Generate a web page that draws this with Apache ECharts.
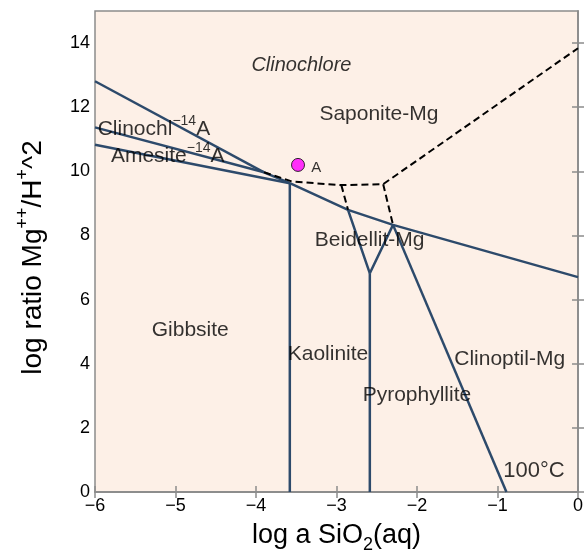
<!DOCTYPE html>
<html><head><meta charset="utf-8">
<script src="https://cdn.jsdelivr.net/npm/echarts@6/dist/echarts.min.js"></script>
<style>html,body{margin:0;padding:0;background:#fff}#c{width:587px;height:550px}</style>
</head><body><div id="c"></div>
<script>
// ---- axis ticks ----
const xTicks = [-6, -5, -4, -3, -2, -1, 0];
const yTicks = [0, 2, 4, 6, 8, 10, 12, 14];

// ---- solid phase boundaries: [log a SiO2(aq), log ratio Mg++/H+^2] ----
const clinochloreUpper = [[-6, 12.81], [-3.90, 9.97]];
const clinochlMiddle = [[-6, 11.37], [-3.90, 9.97]];
const clinochlToJunction = [[-3.90, 9.97], [-3.58, 9.63]];
const amesiteLower = [[-6, 10.83], [-3.58, 9.63]];
const gibbsiteKaolinite = [[-3.58, 9.63], [-3.58, 0]];
const upperRight = [[-3.58, 9.63], [-2.857, 8.80], [-2.298, 8.33], [0, 6.70]];
const kaoliniteV = [[-2.857, 8.80], [-2.586, 6.82], [-2.298, 8.33]];
const kaolinitePyro = [[-2.586, 6.82], [-2.586, 0]];
const clinoptil = [[-2.298, 8.33], [-0.889, 0]];

// ---- dashed (metastable) boundaries ----
const dashMain = [[-3.90, 9.97], [-3.549, 9.68], [-2.94, 9.57], [-2.42, 9.60], [0, 13.84]];
const dashLeft = [[-2.94, 9.57], [-2.857, 8.80]];
const dashRight = [[-2.42, 9.60], [-2.298, 8.33]];

// ---- sample point ----
const pointA = [[-3.478, 10.20]];

// ---- field labels ----
const labelText = ['{i|Clinochlore}', 'Saponite-Mg', 'Clinochl{s|\u221214}A', 'Amesite{s|\u221214}A',
  'Beidellit-Mg', 'Gibbsite', 'Kaolinite', 'Pyrophyllite', 'Clinoptil-Mg', '{b|100\u00b0C}', '{a|A}'];
const labelX = [-3.436, -2.473, -5.268, -5.097, -2.588, -4.817, -3.106, -2.001, -0.849, -0.548, -3.252];
const labelY = [13.375, 11.85, 11.38, 10.54, 7.92, 5.13, 4.39, 3.10, 4.21, 0.73, 10.19];

const FONT = '"Liberation Sans", Arial, Helvetica, sans-serif';
const LINE = '#2d4a6b';
const minus = v => (v < 0 ? '\u2212' + Math.abs(v) : String(v));

function solid(data) {
  return { type: 'line', data, showSymbol: false, symbol: 'none', silent: true,
    lineStyle: { color: LINE, width: 2.5 }, z: 3 };
}
function dashed(data) {
  return { type: 'line', data, showSymbol: false, symbol: 'none', silent: true,
    lineStyle: { color: '#000', width: 2, type: [7, 4] }, z: 4 };
}

const labelData = labelText.map((t, i) => ({ name: t, value: [labelX[i], labelY[i]] }));

const chart = echarts.init(document.getElementById('c'), null, { renderer: 'canvas' });
chart.setOption({
  animation: false,
  backgroundColor: '#ffffff',
  textStyle: { fontFamily: FONT },
  grid: { left: 95, right: 9, top: 11, bottom: 58, show: true, containLabel: false,
    outerBoundsMode: 'none',
    backgroundColor: '#fdf0e7', borderColor: '#8c8c8c', borderWidth: 1.5 },
  xAxis: [{
    type: 'value', min: -6, max: 0, interval: 1, position: 'bottom',
    axisLine: { show: true, lineStyle: { color: '#8c8c8c', width: 1.5 } },
    axisTick: { show: true, inside: true, length: 6, lineStyle: { color: '#8c8c8c', width: 1.5 }, customValues: xTicks },
    axisLabel: { color: '#000', fontSize: 18, margin: 5, fontFamily: FONT, formatter: minus, customValues: xTicks },
    splitLine: { show: false },
    name: 'log a SiO{sub|2}(aq)', nameLocation: 'middle', nameGap: 26, nameMoveOverlap: false,
    nameTextStyle: { color: '#000', fontSize: 27, fontFamily: FONT, lineHeight: 36,
      rich: { sub: { fontSize: 18, lineHeight: 18, verticalAlign: 'bottom', fontFamily: FONT, color: '#000' } } }
  }, {
    type: 'value', min: -6, max: 0, interval: 1, position: 'top',
    axisLine: { show: true, lineStyle: { color: '#8c8c8c', width: 1.5 } },
    axisTick: { show: true, inside: true, length: 6, lineStyle: { color: '#8c8c8c', width: 1.5 }, customValues: xTicks },
    axisLabel: { show: false }, splitLine: { show: false }
  }],
  yAxis: [{
    type: 'value', min: 0, max: 15, interval: 2, position: 'left',
    axisLine: { show: true, lineStyle: { color: '#8c8c8c', width: 1.5 } },
    axisTick: { show: true, inside: true, length: 6, lineStyle: { color: '#8c8c8c', width: 1.5 }, customValues: yTicks },
    axisLabel: { color: '#000', fontSize: 18, margin: 5, fontFamily: FONT, customValues: yTicks },
    splitLine: { show: false },
    name: 'log ratio Mg{sup|++}/H{sup|+}^2', nameLocation: 'middle', nameGap: 43, nameMoveOverlap: false,
    nameTextStyle: { color: '#000', fontSize: 28, fontFamily: FONT, lineHeight: 38, padding: [0, 12, 0, 0],
      rich: { sup: { fontSize: 18, lineHeight: 18, verticalAlign: 'top', fontFamily: FONT, color: '#000' } } }
  }, {
    type: 'value', min: 0, max: 15, interval: 2, position: 'right',
    axisLine: { show: true, lineStyle: { color: '#8c8c8c', width: 1.5 } },
    axisTick: { show: true, inside: true, length: 6, lineStyle: { color: '#8c8c8c', width: 1.5 }, customValues: yTicks },
    axisLabel: { show: false }, splitLine: { show: false }
  }],
  series: [
    solid(clinochloreUpper), solid(clinochlMiddle), solid(clinochlToJunction), solid(amesiteLower),
    solid(gibbsiteKaolinite), solid(upperRight), solid(kaoliniteV), solid(kaolinitePyro), solid(clinoptil),
    dashed(dashMain), dashed(dashLeft), dashed(dashRight),
    { type: 'scatter', data: pointA, symbol: 'circle', symbolSize: 13, silent: true, z: 6,
      itemStyle: { color: '#ff00ff', borderColor: '#000', borderWidth: 1 } },
    { type: 'scatter', data: labelData, symbolSize: 0, silent: true, z: 5,
      label: { show: true, position: 'inside', offset: [0, 2.5], formatter: p => p.name, color: '#000',
        fontSize: 21, lineHeight: 30, fontFamily: FONT,
        rich: {
          s: { fontSize: 14, lineHeight: 14, verticalAlign: 'top', fontFamily: FONT, color: '#000' },
          i: { fontSize: 20, fontStyle: 'italic', fontFamily: FONT, color: '#000' },
          b: { fontSize: 22, fontFamily: FONT, color: '#000' },
          a: { fontSize: 15, fontFamily: FONT, color: '#000' }
        } } }
  ]
});
</script></body></html>
